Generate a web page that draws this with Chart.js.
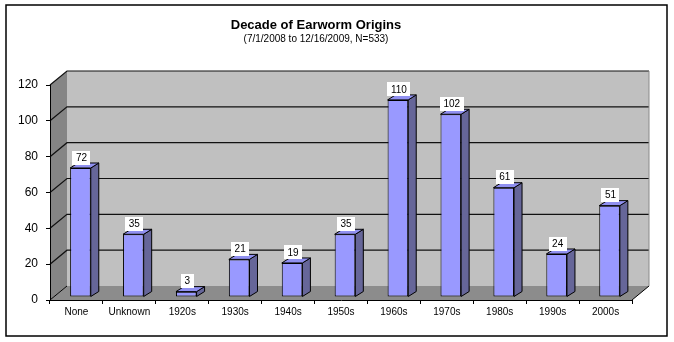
<!DOCTYPE html>
<html>
<head>
<meta charset="utf-8">
<script src="https://cdn.jsdelivr.net/npm/chart.js@4.4.0/dist/chart.umd.min.js"></script>
<style>
  html, body { margin: 0; padding: 0; background: #fff; }
</style>
</head>
<body>
<canvas id="earworms" width="674" height="342"></canvas>
<script>
const decades = ["None", "Unknown", "1920s", "1930s", "1940s", "1950s", "1960s", "1970s", "1980s", "1990s", "2000s"];
const earwormCounts = [72, 35, 3, 21, 19, 35, 110, 102, 61, 24, 51];
const yTickValues = [0, 20, 40, 60, 80, 100, 120];
const chartTitle = "Decade of Earworm Origins";
const chartSubtitle = "(7/1/2008 to 12/16/2009, N=533)";

const FONT = "'Liberation Sans', Arial, sans-serif";

// depth of the box (back wall offset from the front plane)
const WALL_DX = 17, WALL_DY = -14;
// bars stand a bit behind the front edge
const BAR_DX = 4, BAR_DY = -3;
// bar thickness
const SIDE_DX = 8, SIDE_DY = -5;

function poly(ctx, pts, fill, stroke) {
  ctx.beginPath();
  ctx.moveTo(pts[0][0], pts[0][1]);
  for (let i = 1; i < pts.length; i++) ctx.lineTo(pts[i][0], pts[i][1]);
  ctx.closePath();
  if (fill) { ctx.fillStyle = fill; ctx.fill(); }
  if (stroke) { ctx.strokeStyle = stroke; ctx.lineWidth = 1; ctx.stroke(); }
}

function line(ctx, pts) {
  ctx.beginPath();
  ctx.moveTo(pts[0][0], pts[0][1]);
  for (let i = 1; i < pts.length; i++) ctx.lineTo(pts[i][0], pts[i][1]);
  ctx.stroke();
}

const box3d = {
  id: "box3d",
  beforeDraw(chart) {
    const { ctx, chartArea: a, scales } = chart;
    ctx.save();
    ctx.fillStyle = "#fff";
    ctx.fillRect(0, 0, chart.width, chart.height);

    // back wall
    ctx.fillStyle = "#c0c0c0";
    ctx.fillRect(a.left + WALL_DX, a.top + WALL_DY, a.right - a.left, a.bottom - a.top);
    // left side wall
    poly(ctx, [[a.left, a.bottom], [a.left, a.top], [a.left + WALL_DX, a.top + WALL_DY], [a.left + WALL_DX, a.bottom + WALL_DY]], "#858585");
    // floor
    poly(ctx, [[a.left, a.bottom], [a.right, a.bottom], [a.right + WALL_DX, a.bottom + WALL_DY], [a.left + WALL_DX, a.bottom + WALL_DY]], "#8c8c8c");

    // gridlines run along the side wall and across the back wall
    ctx.strokeStyle = "#111";
    ctx.lineWidth = 1.2;
    yTickValues.forEach(v => {
      if (!v) return;
      const y = scales.y.getPixelForValue(v);
      line(ctx, [[a.left, y], [a.left + WALL_DX, y + WALL_DY], [a.right + WALL_DX, y + WALL_DY]]);
    });

    // floor edges
    ctx.strokeStyle = "#000";
    ctx.lineWidth = 1;
    line(ctx, [[a.left, a.bottom], [a.left + WALL_DX, a.bottom + WALL_DY]]);
    line(ctx, [[a.right, a.bottom], [a.right + WALL_DX, a.bottom + WALL_DY]]);
    // right edge of back wall
    ctx.strokeStyle = "#8a8a8a";
    line(ctx, [[a.right + WALL_DX, a.top + WALL_DY], [a.right + WALL_DX, a.bottom + WALL_DY]]);
    ctx.restore();
  },
  beforeDatasetsDraw(chart) {
    chart.ctx.save();
    chart.ctx.translate(BAR_DX, BAR_DY);
  },
  afterDatasetsDraw(chart) {
    const ctx = chart.ctx;
    const bars = chart.getDatasetMeta(0).data;
    bars.forEach(bar => {
      const { x, y, base, width } = bar.getProps(["x", "y", "base", "width"], true);
      const l = x - width / 2, r = x + width / 2;
      // side face
      poly(ctx, [[r, y], [r + SIDE_DX, y + SIDE_DY], [r + SIDE_DX, base + SIDE_DY], [r, base]], "#666699", "#000");
      // top face
      poly(ctx, [[l, y], [l + SIDE_DX, y + SIDE_DY], [r + SIDE_DX, y + SIDE_DY], [r, y]], "#9090f0", "#000");
    });
    ctx.restore();

    // value labels in white boxes
    ctx.save();
    ctx.font = "10px " + FONT;
    ctx.textAlign = "center";
    ctx.textBaseline = "middle";
    const values = chart.data.datasets[0].data;
    bars.forEach((bar, i) => {
      const { x, y } = bar.getProps(["x", "y"], true);
      const text = String(values[i]);
      const cx = x + BAR_DX + 1;
      const cy = y + BAR_DY - 10.5;
      const w = ctx.measureText(text).width + 7;
      ctx.fillStyle = "#fff";
      ctx.fillRect(Math.round(cx - w / 2), Math.round(cy - 7), Math.round(w), 14);
      ctx.fillStyle = "#000";
      ctx.fillText(text, cx, cy + 0.5);
    });
    ctx.restore();
  },
  afterDraw(chart) {
    const ctx = chart.ctx;
    ctx.save();
    ctx.strokeStyle = "#000";
    ctx.lineWidth = 1.5;
    ctx.strokeRect(6, 5, 661, 331);
    ctx.restore();
  }
};

new Chart(document.getElementById("earworms"), {
  type: "bar",
  data: {
    labels: decades,
    datasets: [{
      data: earwormCounts,
      backgroundColor: "#9999ff",
      borderColor: "#000",
      borderWidth: 1,
      borderSkipped: false,
      categoryPercentage: 1,
      barPercentage: 0.39,
    }],
  },
  options: {
    responsive: false,
    animation: false,
    devicePixelRatio: 1,
    layout: { padding: { left: 0, right: 42, top: 0, bottom: 0 } },
    plugins: {
      legend: { display: false },
      tooltip: { enabled: false },
      title: {
        display: true,
        text: chartTitle,
        color: "#000",
        font: { family: FONT, size: 13, weight: "bold", lineHeight: 1.2 },
        padding: { top: 18, bottom: 0 },
      },
      subtitle: {
        display: true,
        text: chartSubtitle,
        color: "#000",
        font: { family: FONT, size: 10, lineHeight: 1.2 },
        padding: { top: 0, bottom: 39.4 },
      },
    },
    scales: {
      x: {
        grid: { drawOnChartArea: false, drawTicks: true, tickLength: 4, color: "#000", offset: true },
        border: { display: true, color: "#000", width: 1 },
        ticks: { color: "#000", font: { family: FONT, size: 10 }, padding: 2, maxRotation: 0, autoSkip: false },
        afterFit(scale) { scale.height = 42; },
      },
      y: {
        min: 0,
        max: 120,
        afterBuildTicks(scale) { scale.ticks = yTickValues.map(v => ({ value: v })); },
        grid: { drawOnChartArea: false, drawTicks: true, tickLength: 4, color: "#000" },
        border: { display: true, color: "#000", width: 1 },
        ticks: { color: "#000", font: { family: FONT, size: 12 }, padding: 8 },
        afterFit(scale) { scale.width = 50; },
      },
    },
  },
  plugins: [box3d],
});
</script>
</body>
</html>
